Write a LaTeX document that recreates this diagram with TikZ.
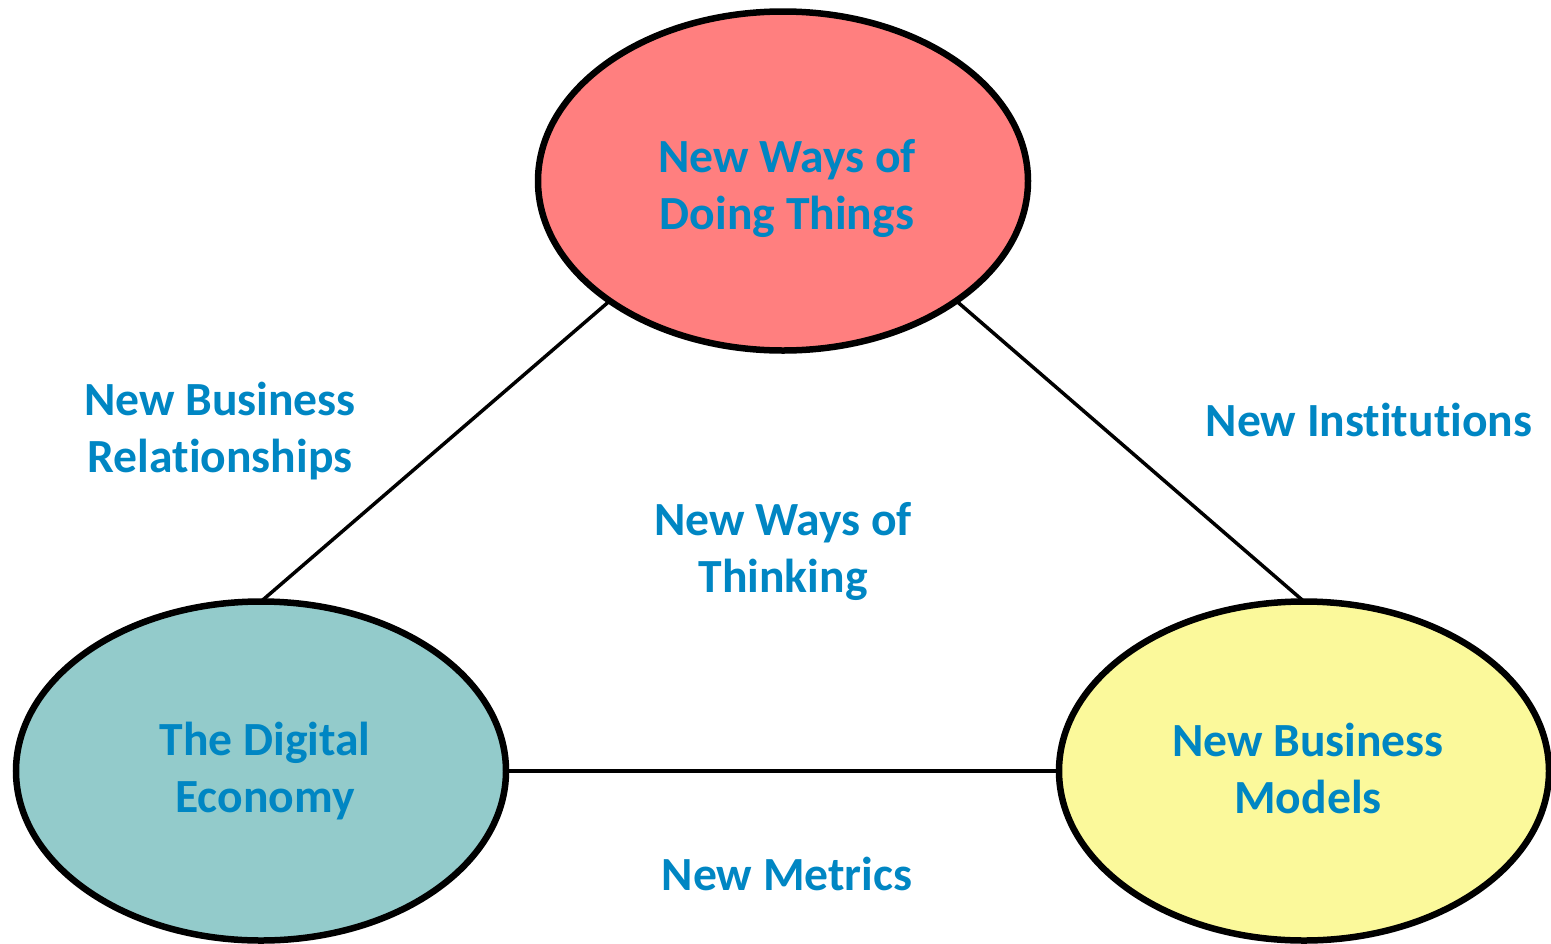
\documentclass[tikz,border=0pt]{standalone}
\usepackage{fontspec}
\setmainfont{Carlito}[Ligatures=NoCommon]
\usetikzlibrary{shapes.geometric}
\definecolor{txtblue}{HTML}{0086C3}
\definecolor{pinkfill}{HTML}{FF7F7F}
\definecolor{tealfill}{HTML}{93CBCB}
\definecolor{yellowfill}{HTML}{FBF99B}
\begin{document}
\begin{tikzpicture}[x=1pt,y=-1pt,
  lbl/.style={text=txtblue, font=\fontsize{47.6}{57}\selectfont\bfseries, align=center, inner sep=0pt},
  bubble/.style={ellipse, draw=black, line width=6.5pt, minimum width=490pt, minimum height=339pt, inner sep=0pt, outer sep=0pt},
  link/.style={draw=black, line width=3.5pt}
]
\useasboundingbox (0,0) rectangle (1551,943);
\node[bubble, fill=pinkfill] (top) at (783,181) {};
\node[bubble, fill=tealfill] (left) at (261,771) {};
\node[bubble, fill=yellowfill] (right) at (1304,771) {};
\draw[link] (top.south west) -- (left.north);
\draw[link] (top.south east) -- (right.north);
\draw[link] (left.east) -- (right.west);
\node[lbl] (ttop) at (787,188) {New Ways of\\Doing Things};
\node[lbl] (tleft) at (265,771) {The Digital\\Economy};
\node[lbl] (tright) at (1308,768) {New Business\\Models};
\node[lbl] (trel) at (220,431) {New Business\\Relationships};
\node[lbl, anchor=base] (tinst) at (1369,436) {New Institutions};
\node[lbl] (tthink) at (783,551) {New Ways of\\Thinking};
\node[lbl, anchor=base] (tmetric) at (787,890) {New Metrics};
\end{tikzpicture}
\end{document}
